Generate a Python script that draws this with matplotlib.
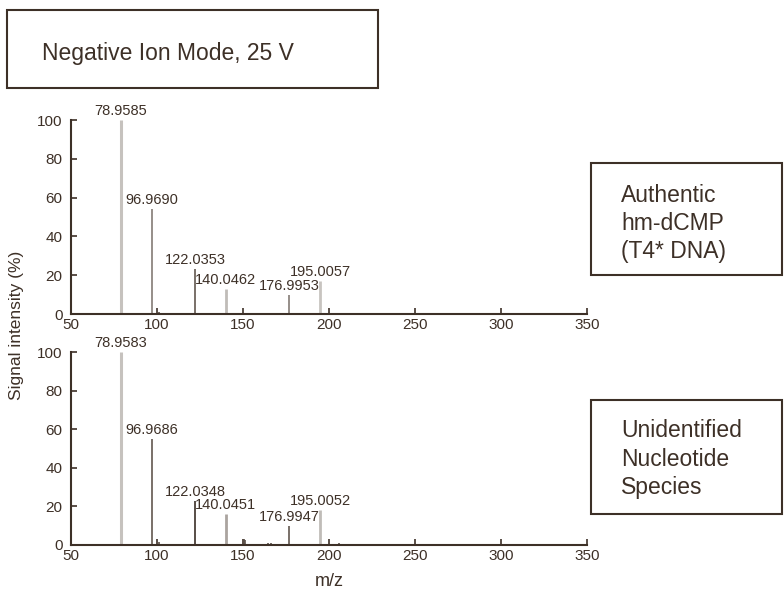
import matplotlib
matplotlib.use('Agg')
import matplotlib.pyplot as plt
from matplotlib.patches import Rectangle

plt.rcParams['font.family'] = ['Liberation Sans', 'DejaVu Sans']

# labelled peaks (m/z, relative intensity %)
top_mz = [78.9585, 96.9690, 122.0353, 140.0462, 176.9953, 195.0057]
top_int = [100, 54, 23, 13, 10, 17]
top_small_mz = [79.2, 101.0]
top_small_int = [12, 1]

bot_mz = [78.9583, 96.9686, 122.0348, 140.0451, 176.9947, 195.0052]
bot_int = [100, 55, 23, 16, 10, 18]
bot_small_mz = [101.0, 150.8, 151.4, 164.5, 166.0, 206.0]
bot_small_int = [1.5, 3, 2.5, 1, 1, 0.8]

x_ticks = [50, 100, 150, 200, 250, 300, 350]
y_ticks = [0, 20, 40, 60, 80, 100]

title_text = 'Negative Ion Mode, 25 V'
top_box_lines = ['Authentic', 'hm-dCMP', '(T4* DNA)']
bot_box_lines = ['Unidentified', 'Nucleotide', 'Species']

ink = '#3d3027'
top_colors = ['#c6c2be', '#8e8680', '#6e645d', '#c0bcb8', '#8e8680', '#c8c4c0']
top_widths = [2.2, 1.3, 1.3, 2.0, 1.3, 2.0]
bot_colors = ['#c6c2be', '#6e645d', '#4a3f38', '#aaa49f', '#6e645d', '#c0bcb8']
bot_widths = [2.2, 1.3, 1.3, 2.0, 1.3, 2.0]

W, H = 784, 590
fig = plt.figure(figsize=(W / 100, H / 100), dpi=100)


def px_axes(x0, y0, x1, y1):
    return fig.add_axes([x0 / W, 1 - y1 / H, (x1 - x0) / W, (y1 - y0) / H])


def draw_panel(ax, mz, inten, cols, lws, smz, sint):
    ax.vlines(smz, 0, sint, colors='#5a4f48', lw=1.2)
    for m, v, c, lw in zip(mz, inten, cols, lws):
        ax.vlines(m, 0, v, colors=c, lw=lw)
        ax.annotate(f'{m:.4f}', (m, v), xytext=(0, 1.5), textcoords='offset points',
                    ha='center', va='bottom', fontsize=10.5, color=ink,
                    annotation_clip=False)
    ax.set_xlim(50, 350)
    ax.set_ylim(0, 100)
    ax.set_xticks(x_ticks)
    ax.set_yticks(y_ticks)
    for s in ['top', 'right']:
        ax.spines[s].set_visible(False)
    for s in ['left', 'bottom']:
        ax.spines[s].set_color(ink)
        ax.spines[s].set_linewidth(1.5)
    ax.tick_params(direction='in', length=4, width=1.2, color=ink,
                   labelcolor=ink, labelsize=11)
    ax.tick_params(axis='y', pad=6)
    ax.tick_params(axis='x', pad=3)
    ax.patch.set_alpha(0)


ax1 = px_axes(71, 120, 587, 314)
draw_panel(ax1, top_mz, top_int, top_colors, top_widths, top_small_mz, top_small_int)
ax2 = px_axes(71, 352, 587, 545)
draw_panel(ax2, bot_mz, bot_int, bot_colors, bot_widths, bot_small_mz, bot_small_int)

fig.text(329 / W, 1 - 581 / H, 'm/z', ha='center', va='center', fontsize=13, color=ink)
fig.text(17 / W, 1 - 325 / H, 'Signal intensity (%)', rotation=90,
         ha='center', va='center', fontsize=12.5, color=ink)


def box(x0, y0, x1, y1):
    fig.patches.append(Rectangle((x0 / W, 1 - y1 / H), (x1 - x0) / W, (y1 - y0) / H,
                                 transform=fig.transFigure, fill=False,
                                 edgecolor=ink, lw=1.5))


box(7, 10, 378, 88)
fig.text(42 / W, 1 - 60 / H, title_text, ha='left', va='baseline', fontsize=16.5, color=ink)

box(591, 163, 782, 275)
for i, line in enumerate(top_box_lines):
    fig.text(621 / W, 1 - (202 + 28 * i) / H, line, ha='left', va='baseline',
             fontsize=16.5, color=ink)

box(591, 400, 782, 514)
for i, line in enumerate(bot_box_lines):
    fig.text(621 / W, 1 - (437 + 28.5 * i) / H, line, ha='left', va='baseline',
             fontsize=16.5, color=ink)

fig.savefig('out.png', dpi=100)
